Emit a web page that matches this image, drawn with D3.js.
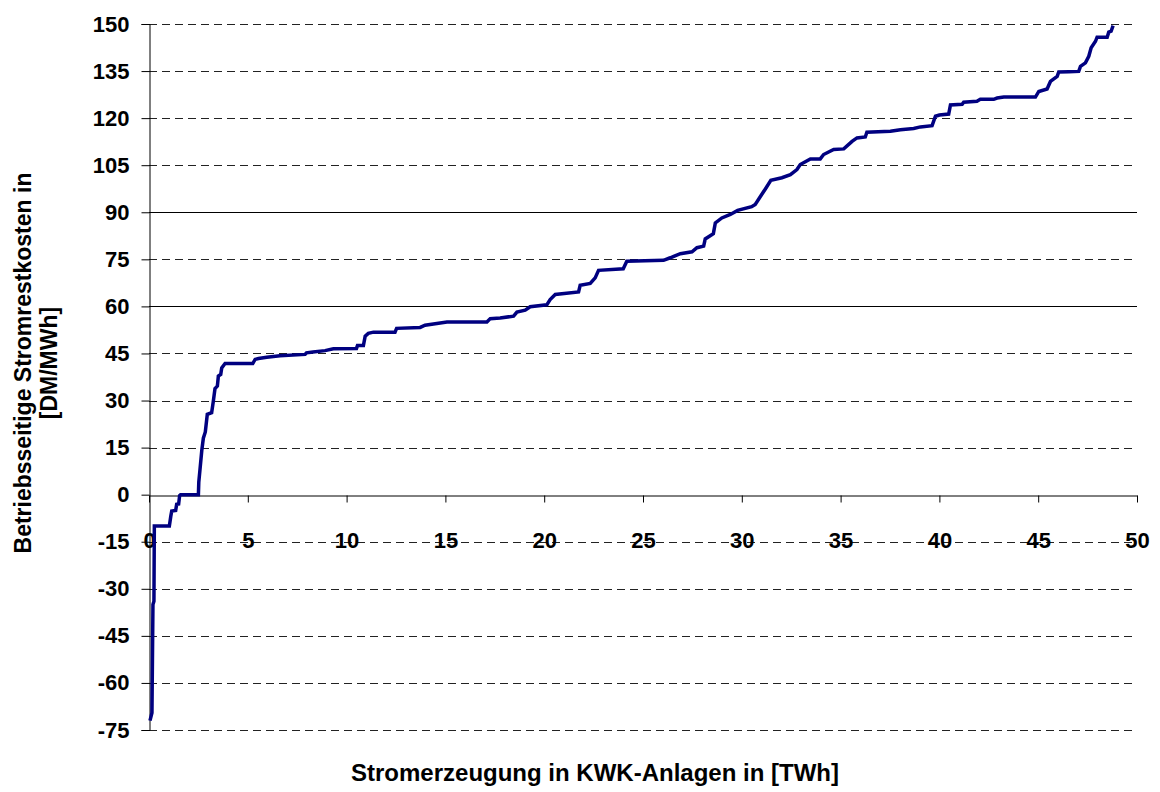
<!DOCTYPE html>
<html>
<head>
<meta charset="utf-8">
<script src="https://cdn.jsdelivr.net/npm/d3@7"></script>
<style>
	body { margin: 0; background: #fff; }
	svg text { font-family: Arial, "Liberation Sans", sans-serif; font-weight: bold; fill: #000; }
</style>
</head>
<body>
<div id="chart"></div>
<script>
// Stromerzeugung in KWK-Anlagen [TWh] (x) vs. Stromrestkosten [DM/MWh] (y)
const energyTWh = [
	0.05, 0.15, 0.2, 0.25, 0.27,
	1.03, 1.1, 1.15, 1.35, 1.4, 1.5, 1.55, 1.6,
	2.5, 2.52, 2.58, 2.67, 2.75, 2.85, 2.95, 3.17, 3.25, 3.34, 3.46, 3.51, 3.63, 3.68, 3.85,
	5.25, 5.37, 5.54, 5.96, 6.63, 7.9, 7.97, 8.3, 8.91, 9.33, 10.5, 10.55, 10.85, 10.94, 11.1, 11.36,
	12.45, 12.53, 13.72, 13.97, 15.08, 17.1, 17.27, 17.77, 18.45, 18.62, 19.04, 19.29, 20.13, 20.3,
	20.56, 21.74, 21.82, 22.33, 22.58, 22.75, 24.0, 24.18, 26.04, 26.38, 26.89, 27.48, 27.73, 28.07,
	28.15, 28.56, 28.66, 28.99, 29.42, 29.79, 30.5, 30.68, 30.9, 31.2, 31.47, 32.03, 32.46, 32.79,
	32.96, 33.47, 33.97, 34.14, 34.65, 35.16, 35.58, 35.83, 36.25, 36.33, 37.52, 38.03, 38.7, 39.04,
	39.63, 39.8, 40.0, 40.47, 40.56, 41.15, 41.23, 41.9, 42.07, 42.75, 42.92, 43.26, 44.86, 45.03,
	45.45, 45.62, 45.96, 46.04, 46.55, 47.05, 47.14, 47.39, 47.56, 47.68, 47.9, 47.98, 48.49, 48.57,
	48.69, 48.79
];
const costDM = [
	-72, -69.5, -35, -34, -10,
	-10, -7, -5.2, -5, -3.1, -3, -0.3, 0,
	0, 4, 8, 14, 18, 20, 25.6, 26.1, 29.5, 33.8, 34.6, 37.8, 38.3, 40.4, 41.8,
	41.8, 43.1, 43.4, 43.8, 44.3, 44.7, 45.2, 45.5, 45.9, 46.5, 46.6, 47.5, 47.5, 50.5, 51.4, 51.8,
	51.8, 53, 53.3, 54, 55, 55, 56.1, 56.3, 56.9, 58.2, 58.8, 59.9, 60.5, 62.2,
	63.8, 64.6, 66.7, 67.3, 69.1, 71.5, 72, 74.4, 74.7, 75.5, 76.8, 77.4, 78.7, 79.2,
	81.5, 83.2, 86.6, 88.2, 89.3, 90.6, 91.8, 92.5, 94.6, 97.5, 100.2, 101, 102, 103.6,
	105.2, 107, 107, 108.4, 110, 110.2, 112.6, 113.7, 114, 115.5, 115.8, 116.3, 116.7, 117.2,
	117.6, 120.6, 121, 121.3, 124.2, 124.4, 125.1, 125.4, 126, 126, 126.4, 126.7, 126.7, 128.5,
	129.3, 131.7, 133.3, 134.7, 134.8, 134.9, 136.5, 137.6, 139.7, 142.4, 144.5, 145.8, 145.8, 147.4,
	147.7, 149.5
];
const xTicks = [0, 5, 10, 15, 20, 25, 30, 35, 40, 45, 50];
const yTicks = [-75, -60, -45, -30, -15, 0, 15, 30, 45, 60, 75, 90, 105, 120, 135, 150];
const solidGrid = [60, 90];
const xTitle = "Stromerzeugung in KWK-Anlagen in [TWh]";
const yTitle = ["Betriebsseitige Stromrestkosten in", "[DM/MWh]"];

const width = 1160, height = 792;
const margin = { top: 24, right: 23, bottom: 62, left: 149 };

const svg = d3.select("#chart").append("svg")
	.attr("width", width)
	.attr("height", height);

const x = d3.scaleLinear().domain([0, 50]).range([margin.left, width - margin.right]);
const y = d3.scaleLinear().domain([-75, 150]).range([height - margin.bottom, margin.top]);

// gridlines (dashed, except 60 and 90)
svg.append("g")
	.selectAll("line")
	.data(yTicks.filter(d => d !== 0))
	.join("line")
	.attr("x1", x(0))
	.attr("x2", x(50))
	.attr("y1", d => Math.round(y(d)) + 0.5)
	.attr("y2", d => Math.round(y(d)) + 0.5)
	.attr("stroke", d => solidGrid.includes(d) ? "#000" : "#222")
	.attr("stroke-width", 1)
	.attr("stroke-dasharray", d => solidGrid.includes(d) ? null : "8,5");

// y axis (plain hyphen for negatives, like the original)
const yAxis = svg.append("g")
	.attr("transform", `translate(${Math.round(x(0)) + 0.5},0)`)
	.call(d3.axisLeft(y).tickValues(yTicks).tickSize(8).tickPadding(12).tickFormat(d => String(d)));
yAxis.select(".domain").attr("stroke", "#000");
yAxis.selectAll("text").style("font-size", "22px");

// x axis on the zero line, tick marks down, labels further below
const xAxis = svg.append("g")
	.attr("transform", `translate(0,${Math.round(y(0)) + 0.5})`)
	.call(d3.axisBottom(x).tickValues(xTicks).tickSize(7).tickPadding(30).tickSizeOuter(0).tickFormat(d => String(d)));
xAxis.selectAll("text").style("font-size", "22px");

// curve
const line = d3.line()
	.x((d, i) => x(energyTWh[i]))
	.y(d => y(d));

svg.append("path")
	.datum(costDM)
	.attr("d", line)
	.attr("fill", "none")
	.attr("stroke", "#000080")
	.attr("stroke-width", 3.5)
	.attr("stroke-linejoin", "miter");

// titles
svg.append("text")
	.attr("x", 595)
	.attr("y", 781)
	.attr("text-anchor", "middle")
	.style("font-size", "24px")
	.text(xTitle);

svg.append("g")
	.attr("transform", "translate(0,363) rotate(-90)")
	.selectAll("text")
	.data(yTitle)
	.join("text")
	.attr("x", 0)
	.attr("y", (d, i) => 31 + i * 26)
	.attr("text-anchor", "middle")
	.style("font-size", "23px")
	.text(d => d);
</script>
</body>
</html>
